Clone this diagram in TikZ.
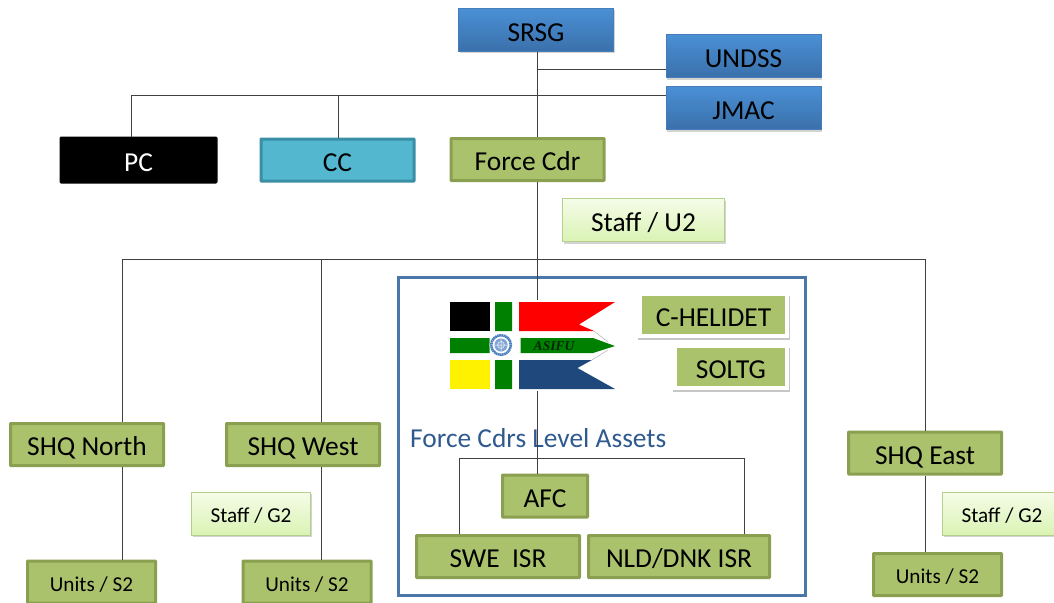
\documentclass[tikz,border=0pt]{standalone}
\usepackage{fontspec}
\setmainfont{Carlito}
\newfontfamily\flagfont{Liberation Serif}
\usetikzlibrary{shadows, positioning}
\definecolor{grnfill}{HTML}{ABC26D}
\definecolor{grnline}{HTML}{8A9F50}
\definecolor{frameblue}{HTML}{4A76A8}
\definecolor{titleblue}{HTML}{2F5A8F}
\definecolor{flagblue}{HTML}{1F497D}
\definecolor{flaggreen}{HTML}{008000}
\definecolor{unblue}{HTML}{4A7FC0}
\begin{document}
\begin{tikzpicture}[x=1pt,y=-1pt,inner sep=0pt,
  conn/.style={line width=0.9pt,black!75},
  big text/.style={font=\fontsize{27.4}{27.4}\selectfont,text height=22pt,text depth=0pt},
  small text/.style={font=\fontsize{21.2}{21.2}\selectfont,text height=18pt,text depth=0pt},
  blue node/.style={rectangle,draw={rgb,255:red,70;green,125;blue,185},line width=0.6pt,
    top color={rgb,255:red,74;green,144;blue,214},bottom color={rgb,255:red,58;green,112;blue,170},
    minimum width=155pt,minimum height=43pt,big text,text height=23.5pt,drop shadow={shadow xshift=1pt,shadow yshift=-2pt,opacity=.35}},
  main node/.style={rectangle,draw=grnline,fill=grnfill,line width=3pt,rounded corners=0.5pt,
    minimum width=153pt,minimum height=42pt,big text},
  unit node/.style={main node,minimum width=128pt,small text},
  staff node/.style={rectangle,draw={rgb,255:red,181;green,208;blue,138},line width=1pt,
    top color={rgb,255:red,245;green,252;blue,232},bottom color={rgb,255:red,218;green,243;blue,180},
    minimum height=43pt,drop shadow={shadow xshift=1pt,shadow yshift=-2pt,opacity=.35}},
  asset node/.style={rectangle,draw=white,fill=grnfill,line width=4pt,minimum height=42pt,
    big text,drop shadow={shadow xshift=0.5pt,shadow yshift=-3pt,shadow scale=1.04,opacity=.45}}]

  \useasboundingbox (0,0) rectangle (1054,602);
  \clip (0,0) rectangle (1054,602);

  % frame first, everything else sits on it
  \draw[frameblue,line width=3pt] (398,277) rectangle (805,595);

  \node[blue node] (SRSG) at (536,30) {SRSG};
  \node[blue node] (UNDSS) at (743.5,56) {UNDSS};
  \node[blue node] (JMAC) at (743.5,108) {JMAC};
  \node[main node,draw=black,fill=black,text=white,minimum width=155pt,minimum height=44pt] (PC) at (138.5,160) {PC};
  \node[main node,draw={rgb,255:red,58;green,143;blue,165},fill={rgb,255:red,84;green,183;blue,208}] (CC) at (337.5,160) {CC};
  \node[main node] (FC) at (527.5,159.5) {Force Cdr};
  \node[staff node,minimum width=162pt,big text] (U2) at (643.5,220) {Staff / U2};

  \node[main node] (SN) at (87,444.5) {SHQ North};
  \node[main node] (SW) at (303,444.5) {SHQ West};
  \node[main node] (SE) at (925,453) {SHQ East};
  \node[staff node,minimum width=119pt,small text] (GW) at (251,513.5) {Staff / G2};
  \node[staff node,minimum width=119pt,small text] (GE) at (1002,513.5) {Staff / G2};
  \node[unit node] (UN) at (91.5,582) {Units / S2};
  \node[unit node] (UW) at (307,582) {Units / S2};
  \node[unit node] (UE) at (937.5,574.5) {Units / S2};

  \node[main node,minimum width=85pt] (AFC) at (545,496) {AFC};
  \node[main node,minimum width=163pt] (SWE) at (498,556.5) {SWE\ \ ISR};
  \node[main node,minimum width=181pt] (NLD) at (679,556.5) {NLD/DNK ISR};
  \node[asset node,minimum width=147pt] (HEL) at (713.5,315) {C-HELIDET};
  \node[asset node,minimum width=112pt] (SOL) at (731,367) {SOLTG};

  \node[anchor=base west,text=titleblue,font=\fontsize{27.4}{27.4}\selectfont] (FLA) at (410,447) {Force Cdrs Level Assets};

  \coordinate (top) at (537,259);
  \coordinate (jl) at (131,95);
  \coordinate (jc) at (338,95);
  \coordinate (bl) at (122,259);
  \coordinate (bw) at (321,259);
  \coordinate (be) at (925,259);
  \coordinate (al) at (459,458);
  \coordinate (ar) at (744,458);
  \coordinate (ju) at (666,69);

  \path[conn]
       (SRSG.south -| top) edge (FC.north -| top)
       (FC.south -| top) edge (top)
       (top) edge (AFC.north -| top)
       (ju) edge (ju -| top)
       (jl) edge (jl -| JMAC.west)
       (jl) edge (jl |- PC.north)
       (jc) edge (jc |- CC.north)
       (bl) edge (be)
       (bl) edge (bl |- SN.north)
       (bw) edge (bw |- SW.north)
       (be) edge (be |- SE.north)
       (al) edge (ar)
       (al) edge (al |- SWE.north)
       (ar) edge (ar |- NLD.north)
       (SN.south -| bl) edge (UN.north -| bl)
       (SW.south -| bw) edge (UW.north -| bw)
       (SE.south -| be) edge (UE.north -| be);

  % flag
  \fill[white] (448,300) rectangle (617,391);
  \fill[black] (450,302) rectangle (489.5,331);
  \fill[yellow] (450,360) rectangle (489.5,389);
  \fill[flaggreen] (495,302) rectangle (512,331) (495,360) rectangle (512,389) (450,338) rectangle (489.5,353);
  \fill[red] (519,302) -- (615,302) -- (579,324.5) -- (594,331) -- (519,331) -- cycle;
  \fill[flaggreen] (520.5,338) -- (593,338) -- (615,346) -- (593,353) -- (520.5,353) -- cycle;
  \fill[flagblue] (519,360) -- (592,360) -- (577.5,368) -- (615,389) -- (519,389) -- cycle;
  \draw[black!35,line width=0.4pt] (594,331) -- (608,342) (592,360) -- (608,350);
  \fill[white] (501,345) circle (11.5);
  \draw[unblue,line width=2.6pt,dash pattern=on 1.6pt off 0.5pt] (501,345) circle (9.8);
  \fill[unblue!70!white] (501,345) circle (6.6);
  \draw[white,line width=0.5pt] (501,345) circle (3.4) (494.4,345) -- (507.6,345) (501,338.4) -- (501,351.6);
  \node[font=\flagfont\fontsize{13.5}{13.5}\selectfont\bfseries\itshape,text=black!85!green] (AS) at (554,346) {ASIFU};
\end{tikzpicture}
\end{document}
